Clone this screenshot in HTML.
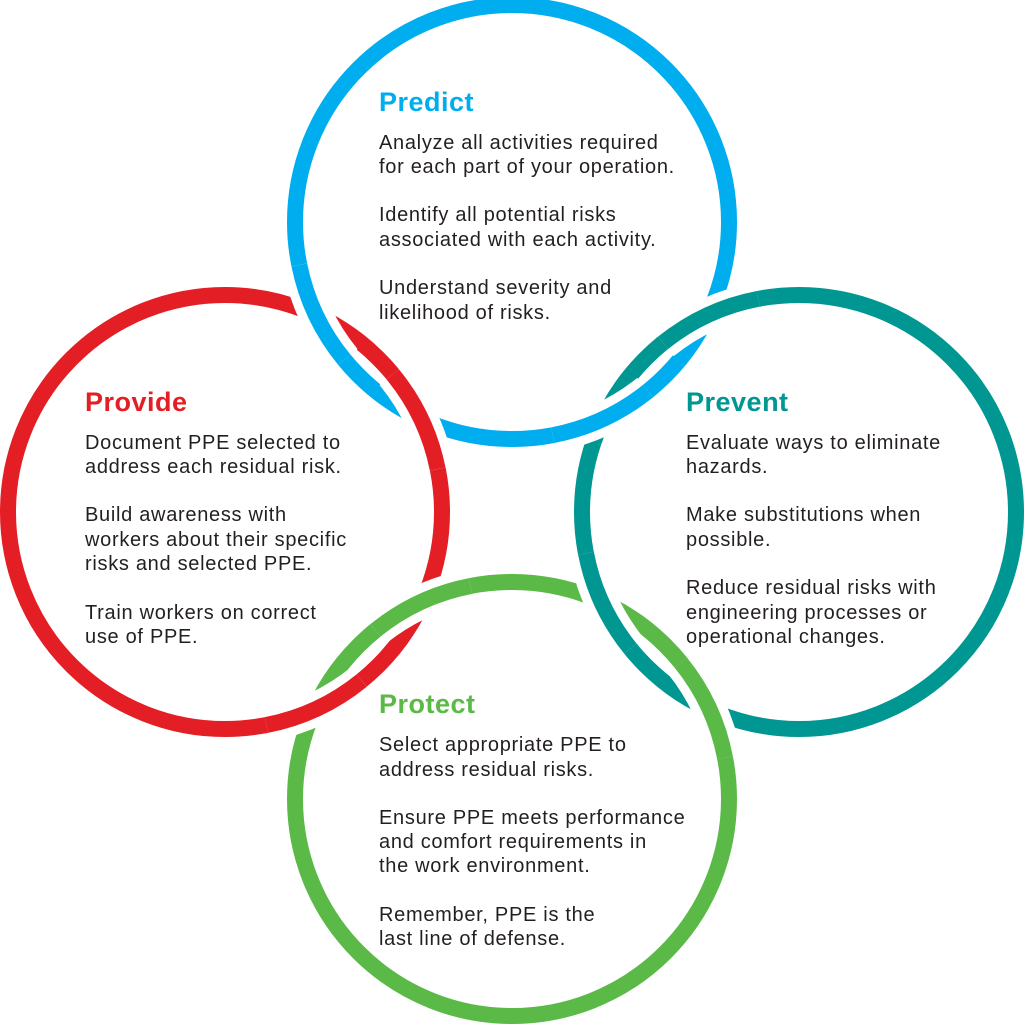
<!DOCTYPE html>
<html><head><meta charset="utf-8"><style>
html,body{margin:0;padding:0;background:#fff;}
svg{display:block;}
.t{font-family:"Liberation Sans",sans-serif;font-weight:bold;font-size:27px;letter-spacing:0.5px;}
.b{font-family:"Liberation Sans",sans-serif;font-size:20px;letter-spacing:0.7px;fill:#231f20;}
</style></head><body>
<svg width="1024" height="1024" viewBox="0 0 1024 1024" xmlns="http://www.w3.org/2000/svg">
<g fill="none" stroke-width="16">
<circle cx="512" cy="222" r="217" stroke="#00aeef"/>
<circle cx="225" cy="512" r="217" stroke="#e31e24"/>
<circle cx="799" cy="512" r="217" stroke="#009691"/>
<circle cx="512" cy="799" r="217" stroke="#5ab947"/>
</g>
<g fill="none" stroke-linecap="butt">
<path d="M648,391.1 A217 217 0 0 1 552.7,435.2" stroke="#fff" stroke-width="34"/>
<path d="M648,391.1 A217 217 0 0 1 552.7,435.2" stroke="#00aeef" stroke-width="16"/>
<path d="M663,342.9 A217 217 0 0 1 758.3,298.8" stroke="#fff" stroke-width="34"/>
<path d="M663,342.9 A217 217 0 0 1 758.3,298.8" stroke="#009691" stroke-width="16"/>
<path d="M392.7,374.3 A217 217 0 0 1 437.7,469.1" stroke="#fff" stroke-width="34"/>
<path d="M392.7,374.3 A217 217 0 0 1 437.7,469.1" stroke="#e31e24" stroke-width="16"/>
<path d="M344.3,359.7 A217 217 0 0 1 299.3,264.9" stroke="#fff" stroke-width="34"/>
<path d="M344.3,359.7 A217 217 0 0 1 299.3,264.9" stroke="#00aeef" stroke-width="16"/>
<path d="M680.6,662.4 A217 217 0 0 1 725,757.6" stroke="#fff" stroke-width="34"/>
<path d="M680.6,662.4 A217 217 0 0 1 725,757.6" stroke="#5ab947" stroke-width="16"/>
<path d="M630.4,648.6 A217 217 0 0 1 586,553.4" stroke="#fff" stroke-width="34"/>
<path d="M630.4,648.6 A217 217 0 0 1 586,553.4" stroke="#009691" stroke-width="16"/>
<path d="M361.6,680.6 A217 217 0 0 1 266.4,725" stroke="#fff" stroke-width="34"/>
<path d="M361.6,680.6 A217 217 0 0 1 266.4,725" stroke="#e31e24" stroke-width="16"/>
<path d="M375.4,630.4 A217 217 0 0 1 470.6,586" stroke="#fff" stroke-width="34"/>
<path d="M375.4,630.4 A217 217 0 0 1 470.6,586" stroke="#5ab947" stroke-width="16"/>
</g>
<text class="t" x="379" y="111" fill="#00aeef">Predict</text>
<text class="b" x="379" y="149">Analyze all activities required</text>
<text class="b" x="379" y="173">for each part of your operation.</text>
<text class="b" x="379" y="221">Identify all potential risks</text>
<text class="b" x="379" y="246">associated with each activity.</text>
<text class="b" x="379" y="294">Understand severity and</text>
<text class="b" x="379" y="319">likelihood of risks.</text>

<text class="t" x="85" y="411" fill="#e31e24">Provide</text>
<text class="b" x="85" y="449">Document PPE selected to</text>
<text class="b" x="85" y="473">address each residual risk.</text>
<text class="b" x="85" y="521">Build awareness with</text>
<text class="b" x="85" y="546">workers about their specific</text>
<text class="b" x="85" y="570">risks and selected PPE.</text>
<text class="b" x="85" y="619">Train workers on correct</text>
<text class="b" x="85" y="643">use of PPE.</text>

<text class="t" x="686" y="411" fill="#009691">Prevent</text>
<text class="b" x="686" y="449">Evaluate ways to eliminate</text>
<text class="b" x="686" y="473">hazards.</text>
<text class="b" x="686" y="521">Make substitutions when</text>
<text class="b" x="686" y="546">possible.</text>
<text class="b" x="686" y="594">Reduce residual risks with</text>
<text class="b" x="686" y="619">engineering processes or</text>
<text class="b" x="686" y="643">operational changes.</text>

<text class="t" x="379" y="713" fill="#5ab947">Protect</text>
<text class="b" x="379" y="751">Select appropriate PPE to</text>
<text class="b" x="379" y="776">address residual risks.</text>
<text class="b" x="379" y="824">Ensure PPE meets performance</text>
<text class="b" x="379" y="848">and comfort requirements in</text>
<text class="b" x="379" y="872">the work environment.</text>
<text class="b" x="379" y="921">Remember, PPE is the</text>
<text class="b" x="379" y="945">last line of defense.</text>
</svg>
</body></html>
